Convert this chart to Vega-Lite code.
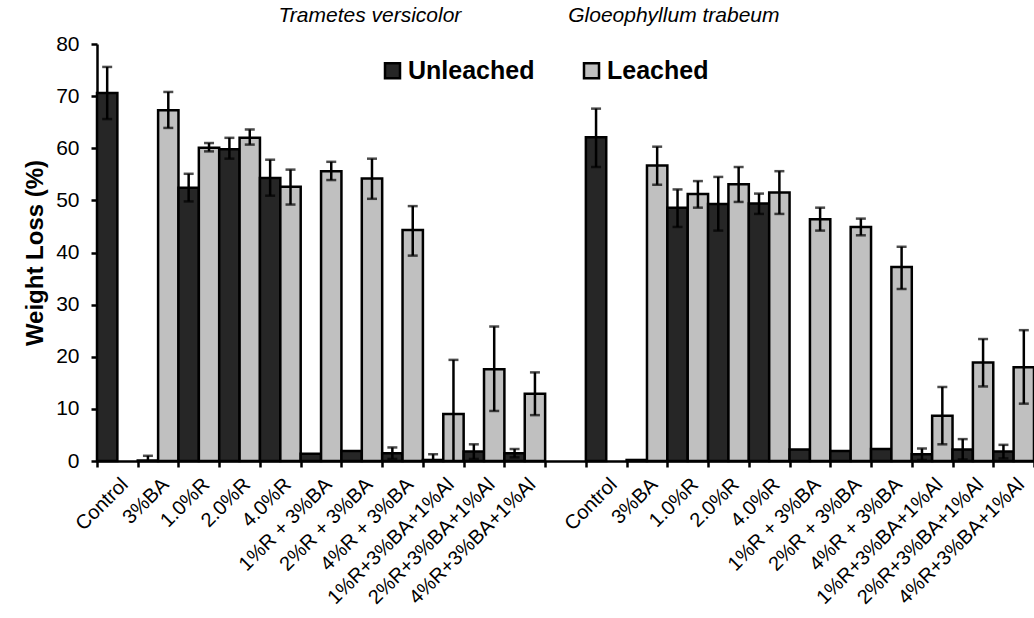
{
  "$schema": "https://vega.github.io/schema/vega-lite/v6.json",
  "width": 937,
  "height": 417,
  "autosize": "none",
  "padding": {"left": 97, "top": 44, "right": 0, "bottom": 157},
  "background": "white",
  "config": {"view": {"stroke": null}, "font": "Liberation Sans"},
  "data": {"values": [
      {"cat": "T|Control", "type": "Unleached", "value": 70.6, "lo": 65.6, "hi": 75.6},
      {"cat": "T|3%BA", "type": "Unleached", "value": 0.1, "lo": -0.8, "hi": 1.0},
      {"cat": "T|3%BA", "type": "Leached", "value": 67.3, "lo": 63.9, "hi": 70.8},
      {"cat": "T|1.0%R", "type": "Unleached", "value": 52.4, "lo": 49.8, "hi": 55.1},
      {"cat": "T|1.0%R", "type": "Leached", "value": 60.1, "lo": 59.4, "hi": 61.0},
      {"cat": "T|2.0%R", "type": "Unleached", "value": 59.8, "lo": 58.0, "hi": 62.0},
      {"cat": "T|2.0%R", "type": "Leached", "value": 62.0, "lo": 60.7, "hi": 63.6},
      {"cat": "T|4.0%R", "type": "Unleached", "value": 54.3, "lo": 50.9, "hi": 57.8},
      {"cat": "T|4.0%R", "type": "Leached", "value": 52.6, "lo": 49.2, "hi": 55.9},
      {"cat": "T|1%R + 3%BA", "type": "Unleached", "value": 1.4},
      {"cat": "T|1%R + 3%BA", "type": "Leached", "value": 55.6, "lo": 53.9, "hi": 57.4},
      {"cat": "T|2%R + 3%BA", "type": "Unleached", "value": 1.9},
      {"cat": "T|2%R + 3%BA", "type": "Leached", "value": 54.2, "lo": 50.3, "hi": 58.0},
      {"cat": "T|4%R + 3%BA", "type": "Unleached", "value": 1.5, "lo": 0.4, "hi": 2.6},
      {"cat": "T|4%R + 3%BA", "type": "Leached", "value": 44.3, "lo": 39.4, "hi": 48.9},
      {"cat": "T|1%R+3%BA+1%Al", "type": "Unleached", "value": 0.2, "lo": -0.9, "hi": 1.3},
      {"cat": "T|1%R+3%BA+1%Al", "type": "Leached", "value": 9.0, "lo": -1.4, "hi": 19.4},
      {"cat": "T|2%R+3%BA+1%Al", "type": "Unleached", "value": 1.8, "lo": 0.4, "hi": 3.2},
      {"cat": "T|2%R+3%BA+1%Al", "type": "Leached", "value": 17.6, "lo": 9.6, "hi": 25.8},
      {"cat": "T|4%R+3%BA+1%Al", "type": "Unleached", "value": 1.5, "lo": 0.7, "hi": 2.3},
      {"cat": "T|4%R+3%BA+1%Al", "type": "Leached", "value": 12.9, "lo": 8.8, "hi": 17.0},
      {"cat": "G|Control", "type": "Unleached", "value": 62.1, "lo": 56.4, "hi": 67.6},
      {"cat": "G|3%BA", "type": "Unleached", "value": 0.2},
      {"cat": "G|3%BA", "type": "Leached", "value": 56.7, "lo": 53.0, "hi": 60.3},
      {"cat": "G|1.0%R", "type": "Unleached", "value": 48.6, "lo": 44.9, "hi": 52.1},
      {"cat": "G|1.0%R", "type": "Leached", "value": 51.2, "lo": 48.6, "hi": 53.7},
      {"cat": "G|2.0%R", "type": "Unleached", "value": 49.3, "lo": 44.2, "hi": 54.5},
      {"cat": "G|2.0%R", "type": "Leached", "value": 53.1, "lo": 49.7, "hi": 56.4},
      {"cat": "G|4.0%R", "type": "Unleached", "value": 49.4, "lo": 47.4, "hi": 51.3},
      {"cat": "G|4.0%R", "type": "Leached", "value": 51.5, "lo": 47.4, "hi": 55.6},
      {"cat": "G|1%R + 3%BA", "type": "Unleached", "value": 2.2},
      {"cat": "G|1%R + 3%BA", "type": "Leached", "value": 46.4, "lo": 44.2, "hi": 48.6},
      {"cat": "G|2%R + 3%BA", "type": "Unleached", "value": 1.9},
      {"cat": "G|2%R + 3%BA", "type": "Leached", "value": 44.9, "lo": 43.3, "hi": 46.5},
      {"cat": "G|4%R + 3%BA", "type": "Unleached", "value": 2.3},
      {"cat": "G|4%R + 3%BA", "type": "Leached", "value": 37.2, "lo": 33.0, "hi": 41.1},
      {"cat": "G|1%R+3%BA+1%Al", "type": "Unleached", "value": 1.3, "lo": 0.2, "hi": 2.4},
      {"cat": "G|1%R+3%BA+1%Al", "type": "Leached", "value": 8.7, "lo": 3.2, "hi": 14.2},
      {"cat": "G|2%R+3%BA+1%Al", "type": "Unleached", "value": 2.2, "lo": 0.3, "hi": 4.2},
      {"cat": "G|2%R+3%BA+1%Al", "type": "Leached", "value": 18.9, "lo": 14.3, "hi": 23.4},
      {"cat": "G|4%R+3%BA+1%Al", "type": "Unleached", "value": 1.8, "lo": 0.5, "hi": 3.1},
      {"cat": "G|4%R+3%BA+1%Al", "type": "Leached", "value": 18.0, "lo": 11.0, "hi": 25.1}
  ]},
  "layer": [
    {
      "mark": {"type": "bar", "stroke": "#000000", "strokeWidth": 2.5},
      "encoding": {
        "x": {
          "field": "cat",
          "type": "nominal",
          "scale": {
            "domain": ["T|Control", "T|3%BA", "T|1.0%R", "T|2.0%R", "T|4.0%R", "T|1%R + 3%BA", "T|2%R + 3%BA", "T|4%R + 3%BA", "T|1%R+3%BA+1%Al", "T|2%R+3%BA+1%Al", "T|4%R+3%BA+1%Al", "gap", "G|Control", "G|3%BA", "G|1.0%R", "G|2.0%R", "G|4.0%R", "G|1%R + 3%BA", "G|2%R + 3%BA", "G|4%R + 3%BA", "G|1%R+3%BA+1%Al", "G|2%R+3%BA+1%Al", "G|4%R+3%BA+1%Al"],
            "paddingInner": 0,
            "paddingOuter": 0
          },
          "axis": {
            "title": null,
            "labelExpr": "isString(datum.value) && datum.value != 'gap' ? slice(datum.value, 2) : ''",
            "labelAngle": -45,
            "labelFontSize": 20,
            "labelColor": "#000000",
            "labelPadding": 7,
            "tickBand": "extent",
            "tickColor": "#000000",
            "tickWidth": 2.5,
            "tickSize": 6,
            "domainColor": "#000000",
            "domainWidth": 2.5,
            "grid": false
          }
        },
        "xOffset": {"field": "type", "type": "nominal", "sort": ["Unleached", "Leached"]},
        "y": {
          "field": "value",
          "type": "quantitative",
          "scale": {"domain": [0, 80]},
          "axis": {
            "title": "Weight Loss (%)",
            "titleFontSize": 24,
            "titleFontWeight": "bold",
            "titleColor": "#000000",
            "titlePadding": 8,
            "values": [0, 10, 20, 30, 40, 50, 60, 70, 80],
            "labelFontSize": 21,
            "labelColor": "#000000",
            "labelPadding": 12,
            "tickColor": "#000000",
            "tickWidth": 2.5,
            "tickSize": 6,
            "domainColor": "#000000",
            "domainWidth": 2.5,
            "grid": false
          }
        },
        "color": {
          "field": "type",
          "type": "nominal",
          "scale": {"domain": ["Unleached", "Leached"], "range": ["#262626", "#c0c0c0"]},
          "legend": {
            "title": null,
            "orient": "none",
            "legendX": 283,
            "legendY": 14,
            "padding": 0,
            "direction": "horizontal",
            "symbolType": "square",
            "symbolSize": 225,
            "symbolStrokeColor": "#000000",
            "symbolStrokeWidth": 2.5,
            "labelFontSize": 25,
            "labelFontWeight": "bold",
            "labelColor": "#000000",
            "labelOffset": 3,
            "columnPadding": 44
          }
        }
      }
    },
    {
      "mark": {"type": "rule", "color": "#000000", "strokeWidth": 2.5, "clip": true},
      "encoding": {
        "x": {"field": "cat", "type": "nominal"},
        "xOffset": {"field": "type", "type": "nominal", "sort": ["Unleached", "Leached"]},
        "y": {"field": "lo", "type": "quantitative"},
        "y2": {"field": "hi"}
      }
    },
    {
      "mark": {"type": "tick", "color": "#000000", "thickness": 2.5, "size": 10, "clip": true},
      "encoding": {
        "x": {"field": "cat", "type": "nominal"},
        "xOffset": {"field": "type", "type": "nominal", "sort": ["Unleached", "Leached"]},
        "y": {"field": "lo", "type": "quantitative"}
      }
    },
    {
      "mark": {"type": "tick", "color": "#000000", "thickness": 2.5, "size": 10, "clip": true},
      "encoding": {
        "x": {"field": "cat", "type": "nominal"},
        "xOffset": {"field": "type", "type": "nominal", "sort": ["Unleached", "Leached"]},
        "y": {"field": "hi", "type": "quantitative"}
      }
    },
    {
      "data": {"values": [
        {"cat": "T|2%R + 3%BA", "label": "Trametes versicolor", "ypos": 85.4}
      ]},
      "mark": {"type": "text", "fontSize": 21, "fontStyle": "italic", "color": "#000000", "baseline": "middle", "align": "center"},
      "encoding": {
        "x": {"field": "cat", "type": "nominal", "bandPosition": 0.7},
        "y": {"field": "ypos", "type": "quantitative"},
        "text": {"field": "label"}
      }
    },
    {
      "data": {"values": [
        {"cat": "G|1.0%R", "label": "Gloeophyllum trabeum", "ypos": 85.4}
      ]},
      "mark": {"type": "text", "fontSize": 21, "fontStyle": "italic", "color": "#000000", "baseline": "middle", "align": "center"},
      "encoding": {
        "x": {"field": "cat", "type": "nominal", "bandPosition": 0.16},
        "y": {"field": "ypos", "type": "quantitative"},
        "text": {"field": "label"}
      }
    }
  ]
}
